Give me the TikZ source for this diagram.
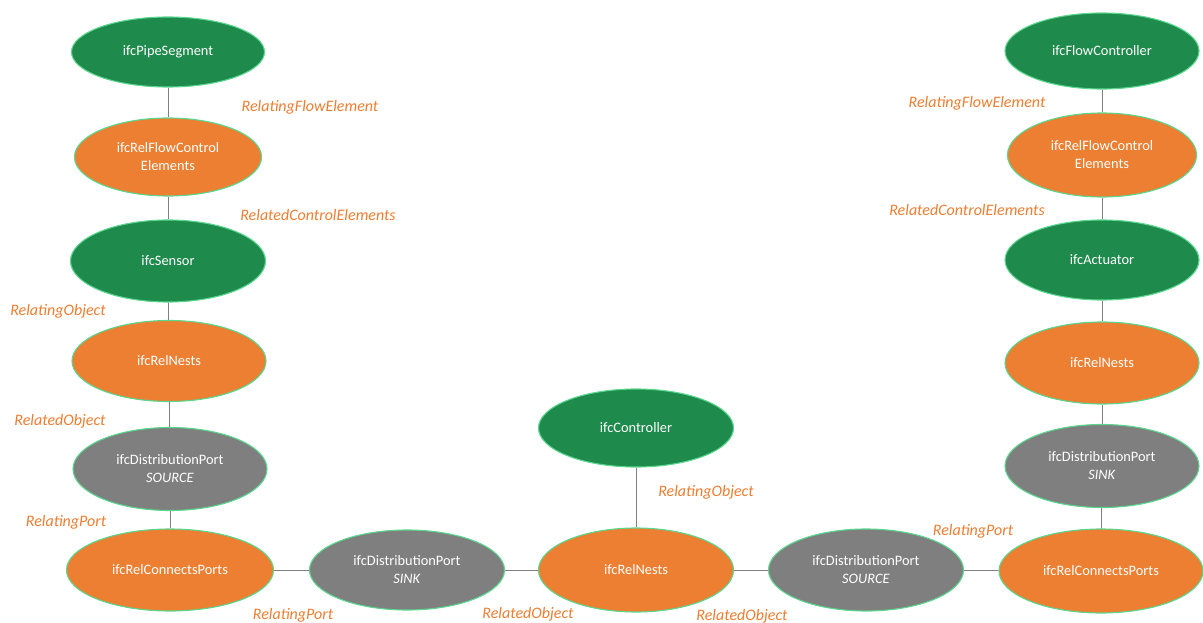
\documentclass[tikz,border=0pt]{standalone}
\usepackage{fontspec}
\setmainfont{Carlito}
\usetikzlibrary{shapes.geometric}
\definecolor{ifcgreen}{HTML}{1E8A4C}
\definecolor{ifcorange}{HTML}{EC7F32}
\definecolor{ifcgray}{HTML}{7F7F7F}
\definecolor{ifcedge}{HTML}{5AD78E}
\definecolor{lbl}{HTML}{ED7D31}
\definecolor{conn}{HTML}{808080}
\tikzset{
  ent/.style={ellipse, draw=ifcedge, line width=1.1pt, inner sep=0pt, text=white, align=center,
    font=\fontsize{14.4}{18}\selectfont},
  gnode/.style={ent, fill=ifcgreen},
  onode/.style={ent, fill=ifcorange},
  pnode/.style={ent, fill=ifcgray},
  rel/.style={text=lbl, font=\fontsize{16}{18}\selectfont\itshape, inner sep=0pt, yshift=-2pt},
  conn/.style={draw=conn, line width=0.8pt},
}
\begin{document}
\begin{tikzpicture}[x=1pt,y=-1pt]
\useasboundingbox (0,0) rectangle (1203,623);
% left column
\node[gnode, minimum width=193pt, minimum height=70pt] (pipe) at (168,52) {ifcPipeSegment};
\node[onode, minimum width=187pt, minimum height=78pt] (rfcL) at (168,157) {ifcRelFlowControl\\Elements};
\node[gnode, minimum width=195pt, minimum height=82pt] (sensor) at (168,261) {ifcSensor};
\node[onode, minimum width=194pt, minimum height=81pt] (nestL) at (169,361) {ifcRelNests};
\node[pnode, minimum width=194pt, minimum height=83pt] (dpsrcL) at (170,469) {ifcDistributionPort\\\textit{SOURCE}};
\node[onode, minimum width=207pt, minimum height=82pt] (rcpL) at (170,570) {ifcRelConnectsPorts};
% bottom row
\node[pnode, minimum width=195pt, minimum height=80pt] (dpsinkM) at (407,570) {ifcDistributionPort\\\textit{SINK}};
\node[onode, minimum width=195pt, minimum height=84pt] (nestM) at (636,570) {ifcRelNests};
\node[gnode, minimum width=195pt, minimum height=78pt] (ctrl) at (636,428) {ifcController};
\node[pnode, minimum width=195pt, minimum height=82pt] (dpsrcR) at (866,570) {ifcDistributionPort\\\textit{SOURCE}};
\node[onode, minimum width=204pt, minimum height=84pt] (rcpR) at (1101,571) {ifcRelConnectsPorts};
% right column
\node[pnode, minimum width=194pt, minimum height=83pt] (dpsinkR) at (1102,466) {ifcDistributionPort\\\textit{SINK}};
\node[onode, minimum width=194pt, minimum height=82pt] (nestR) at (1102,363) {ifcRelNests};
\node[gnode, minimum width=194pt, minimum height=80pt] (act) at (1102,260) {ifcActuator};
\node[onode, minimum width=189pt, minimum height=84pt] (rfcR) at (1102,155) {ifcRelFlowControl\\Elements};
\node[gnode, minimum width=194pt, minimum height=76pt] (fctrl) at (1102,51) {ifcFlowController};
% connectors
\draw[conn] (pipe) -- (rfcL);
\draw[conn] (rfcL) -- (sensor);
\draw[conn] (sensor) -- (nestL);
\draw[conn] (nestL) -- (dpsrcL);
\draw[conn] (dpsrcL) -- (rcpL);
\draw[conn] (rcpL) -- (dpsinkM);
\draw[conn] (dpsinkM) -- (nestM);
\draw[conn] (ctrl) -- (nestM);
\draw[conn] (nestM) -- (dpsrcR);
\draw[conn] (dpsrcR) -- (rcpR);
\draw[conn] (rcpR) -- (dpsinkR);
\draw[conn] (dpsinkR) -- (nestR);
\draw[conn] (nestR) -- (act);
\draw[conn] (act) -- (rfcR);
\draw[conn] (rfcR) -- (fctrl);
% labels
\node[rel] (l1) at (310,105) {RelatingFlowElement};
\node[rel] (l2) at (318,213) {RelatedControlElements};
\node[rel] (l3) at (58,309) {RelatingObject};
\node[rel] (l4) at (60,419) {RelatedObject};
\node[rel] (l5) at (66,520) {RelatingPort};
\node[rel] (l6) at (293,613) {RelatingPort};
\node[rel] (l7) at (528,612) {RelatedObject};
\node[rel] (l8) at (706,490) {RelatingObject};
\node[rel] (l9) at (742,614) {RelatedObject};
\node[rel] (l10) at (973,529) {RelatingPort};
\node[rel] (l11) at (977,101) {RelatingFlowElement};
\node[rel] (l12) at (967,208) {RelatedControlElements};
\end{tikzpicture}
\end{document}
